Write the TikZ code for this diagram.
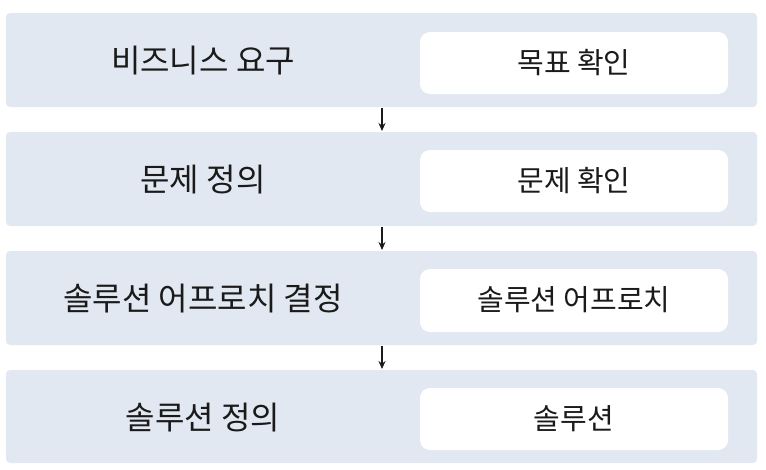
\documentclass[tikz,border=0pt]{standalone}
\usepackage{fontspec}
\newfontfamily\kr{Noto Sans CJK KR}
\usetikzlibrary{arrows.meta}
\definecolor{rowbg}{HTML}{E2E8F1}
\definecolor{ink}{HTML}{1A1A1A}
\tikzset{
  rowbox/.style={fill=rowbg, rounded corners=4pt},
  innerbox/.style={fill=white, rounded corners=10pt},
  lefttext/.style={font=\kr\fontsize{32}{36}\selectfont, text=ink, inner sep=0pt},
  righttext/.style={font=\kr\fontsize{29}{33}\selectfont, text=ink, inner sep=0pt},
  flow/.style={-{Stealth[length=8pt,width=7pt]}, line width=1.2pt, ink}
}
\begin{document}
\begin{tikzpicture}[x=1pt,y=-1pt]
\useasboundingbox (0,0) rectangle (766,469);
% rows
\path[rowbox] (6,13) rectangle (757,107);
\path[rowbox] (6,132) rectangle (757,226);
\path[rowbox] (6,251) rectangle (757,345);
\path[rowbox] (6,370) rectangle (757,463);
\coordinate (r1b) at (382,108);
\coordinate (r2t) at (382,131);
\coordinate (r2b) at (382,227);
\coordinate (r3t) at (382,250);
\coordinate (r3b) at (382,346);
\coordinate (r4t) at (382,369);
% white boxes
\path[innerbox] (420,32) rectangle (728,94);
\path[innerbox] (420,150) rectangle (728,212);
\path[innerbox] (420,269) rectangle (728,332);
\path[innerbox] (420,388) rectangle (728,450);
% left labels
\node[lefttext] (l1) at (203,61) {비즈니스 요구};
\node[lefttext] (l2) at (203,180) {문제 정의};
\node[lefttext] (l3) at (203,299) {솔루션 어프로치 결정};
\node[lefttext] (l4) at (203,418) {솔루션 정의};
% right labels
\node[righttext] (t1) at (574,63) {목표 확인};
\node[righttext] (t2) at (574,181) {문제 확인};
\node[righttext] (t3) at (574,300) {솔루션 어프로치};
\node[righttext] (t4) at (574,419) {솔루션};
% arrows
\draw[flow] (r1b) -- (r2t);
\draw[flow] (r2b) -- (r3t);
\draw[flow] (r3b) -- (r4t);
\end{tikzpicture}
\end{document}
